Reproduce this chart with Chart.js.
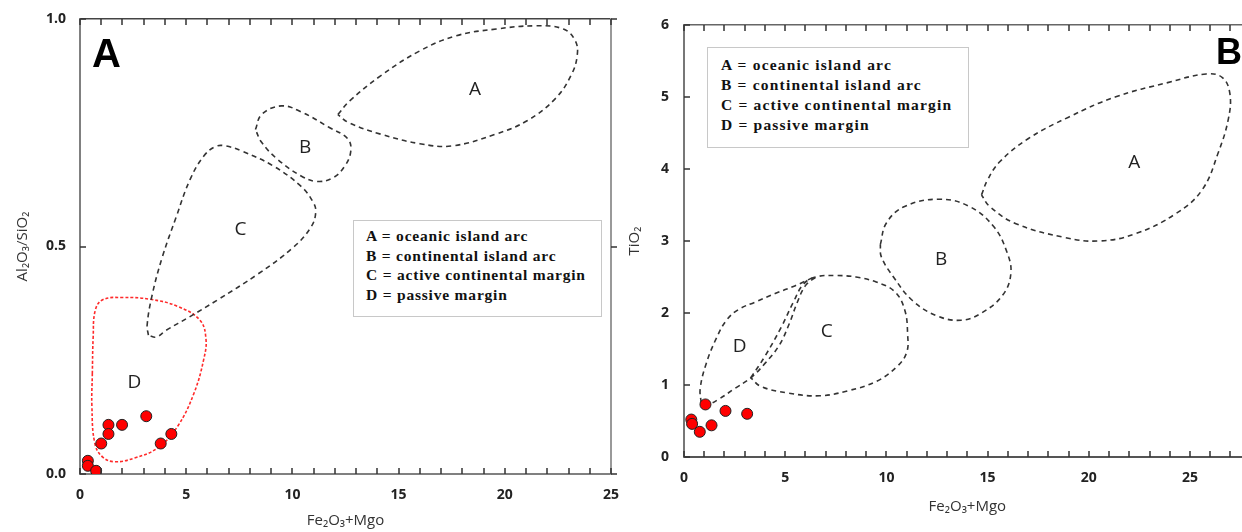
<!DOCTYPE html>
<html>
<head>
<meta charset="utf-8">
<script src="https://cdn.jsdelivr.net/npm/chart.js@4.4.1/dist/chart.umd.min.js"></script>
<style>
html, body { margin: 0; padding: 0; background: #fff; overflow: hidden; width: 1242px; height: 532px; }
#wrapA { position: absolute; left: 0; top: 0; }
#wrapB { position: absolute; left: 620px; top: 0; }
.key { position: absolute; box-sizing: border-box; background: #fff; border: 1.5px solid #c8c8c8;
       font: bold 15.5px "Liberation Serif", "Times New Roman", serif; color: #111; white-space: nowrap; }
.panel { position: absolute; font: bold 40px "Liberation Sans", Arial, sans-serif; color: #000; line-height: 1; }
</style>
</head>
<body>
<div id="wrapA"><canvas id="chartA" width="620" height="532"></canvas></div>
<div id="wrapB"><canvas id="chartB" width="640" height="532"></canvas></div>

<div class="panel" style="left:92px;top:33px;">A</div>
<div class="panel" style="left:1216px;top:34px;font-size:36px;">B</div>

<div class="key" style="left:353px;top:220px;width:249px;height:97px;padding:5px 0 0 12px;line-height:19.5px;letter-spacing:0.8px;">
A = oceanic island arc<br>B = continental island arc<br>C = active continental margin<br>D = passive margin
</div>
<div class="key" style="left:707px;top:47px;width:262px;height:101px;padding:7px 0 0 13px;line-height:20px;letter-spacing:1.2px;">
A = oceanic island arc<br>B = continental island arc<br>C = active continental margin<br>D = passive margin
</div>

<script>
// ---- Panel A : Al2O3/SiO2 vs Fe2O3+MgO ----
const samplesA = [[0.37, 0.029], [0.37, 0.018], [0.76, 0.007], [1.0, 0.067], [1.34, 0.108],
                  [1.34, 0.088], [1.98, 0.108], [3.12, 0.127], [3.8, 0.067], [4.3, 0.088]];

const fieldA_A = [[12.14, 0.79], [12.7, 0.82], [14.15, 0.875], [16.0, 0.93], [17.7, 0.963], [19.6, 0.978],
                  [21.45, 0.985], [22.76, 0.978], [23.32, 0.952], [23.41, 0.92], [23.13, 0.877], [22.38, 0.825],
                  [21.07, 0.777], [19.58, 0.747], [17.5, 0.721], [16.0, 0.726], [14.15, 0.747], [12.66, 0.772], [12.14, 0.79]];
const fieldA_B = [[8.26, 0.757], [8.55, 0.79], [9.48, 0.809], [10.41, 0.796], [11.72, 0.762], [12.6, 0.737],
                  [12.75, 0.71], [12.47, 0.677], [11.91, 0.651], [11.16, 0.643], [10.41, 0.655], [9.29, 0.692],
                  [8.55, 0.729], [8.26, 0.757]];
const fieldA_C = [[3.22, 0.305], [3.16, 0.327], [3.4, 0.394], [3.87, 0.476], [4.53, 0.565], [5.18, 0.647],
                  [5.83, 0.699], [6.39, 0.72], [6.86, 0.721], [7.61, 0.71], [9.1, 0.677], [10.41, 0.632],
                  [10.97, 0.598], [11.1, 0.576], [10.88, 0.543], [10.04, 0.498], [8.36, 0.439], [6.49, 0.383],
                  [5.18, 0.346], [4.06, 0.316], [3.59, 0.301], [3.22, 0.305]];
const fieldA_D = [[0.58, 0.22], [0.62, 0.3], [0.72, 0.36], [1.07, 0.383], [2.0, 0.388], [3.31, 0.384],
                  [4.62, 0.368], [5.65, 0.338], [5.93, 0.297], [5.83, 0.253], [5.37, 0.178], [4.6, 0.105],
                  [3.68, 0.058], [2.56, 0.035], [1.63, 0.027], [1.07, 0.037], [0.7, 0.067], [0.56, 0.149], [0.58, 0.22]];

const labelNames = ['A', 'B', 'C', 'D'];
const labelXA = [18.6, 10.6, 7.55, 2.56];
const labelYA = [0.845, 0.717, 0.537, 0.2];

// ---- Panel B : TiO2 vs Fe2O3+MgO ----
const samplesB = [[0.36, 0.52], [0.40, 0.46], [0.78, 0.35], [1.06, 0.73], [1.36, 0.44], [2.05, 0.64], [3.12, 0.60]];

const fieldB_A = [[14.7, 3.64], [15.0, 3.85], [15.6, 4.1], [17.0, 4.42], [19.0, 4.72], [21.3, 5.0], [23.9, 5.2],
                  [25.8, 5.32], [26.6, 5.27], [26.97, 5.05], [26.9, 4.7], [26.4, 4.23], [25.6, 3.71], [24.3, 3.38],
                  [22.3, 3.1], [20.5, 3.0], [18.8, 3.05], [16.4, 3.24], [15.1, 3.48], [14.7, 3.64]];
const fieldB_B = [[9.7, 2.95], [10.0, 3.25], [10.9, 3.48], [12.6, 3.58], [14.1, 3.48], [15.3, 3.2], [15.95, 2.85],
                  [16.15, 2.55], [15.75, 2.25], [14.7, 2.0], [13.7, 1.9], [12.5, 1.96], [11.3, 2.17], [10.35, 2.5],
                  [9.75, 2.78], [9.7, 2.95]];
const fieldB_C = [[3.3, 1.1], [4.0, 1.4], [4.8, 1.8], [5.4, 2.15], [5.9, 2.4], [6.5, 2.5], [7.5, 2.52], [8.5, 2.5],
                  [9.5, 2.43], [10.4, 2.3], [10.9, 2.05], [11.05, 1.7], [11.0, 1.45], [10.5, 1.25], [9.5, 1.05],
                  [8.1, 0.92], [6.7, 0.85], [5.1, 0.89], [3.8, 0.98], [3.3, 1.1]];
const fieldB_D = [[0.85, 0.75], [0.8, 0.95], [1.1, 1.3], [1.6, 1.65], [2.1, 1.9], [2.7, 2.05], [3.5, 2.15],
                  [4.5, 2.27], [5.5, 2.38], [6.5, 2.5], [6.0, 2.38], [5.6, 2.15], [5.2, 1.85], [4.7, 1.55],
                  [4.0, 1.3], [3.3, 1.1], [2.5, 0.95], [1.7, 0.8], [1.1, 0.72], [0.85, 0.75]];

const labelXB = [22.25, 12.7, 7.05, 2.75];
const labelYB = [4.09, 2.74, 1.74, 1.53];

const xTitle = 'Fe₂O₃+Mgo';

const toXY = arr => arr.map(p => ({ x: p[0], y: p[1] }));

// letters inside the fields, placed through the chart scales
const regionLabelPlugin = {
    id: 'regionLabels',
    afterDatasetsDraw(chart, args, opts) {
        const { ctx, scales } = chart;
        ctx.save();
        ctx.font = '19px "Open Sans", sans-serif';
        ctx.fillStyle = '#222';
        ctx.textAlign = 'center';
        ctx.textBaseline = 'middle';
        opts.names.forEach((n, i) => {
            ctx.fillText(n, scales.x.getPixelForValue(opts.xs[i]), scales.y.getPixelForValue(opts.ys[i]));
        });
        ctx.restore();
    }
};

// tick marks pointing into the plot: every unit along x, every y tick on the left
const innerTickPlugin = {
    id: 'innerTicks',
    afterDraw(chart, args, opts) {
        const { ctx, scales: { x, y } } = chart;
        const len = opts.len;
        const left = x.getPixelForValue(x.min), right = x.getPixelForValue(x.max);
        const bottom = y.getPixelForValue(y.min), top = y.getPixelForValue(y.max);
        ctx.save();
        ctx.strokeStyle = '#333';
        ctx.lineWidth = 1.5;
        ctx.beginPath();
        for (let v = x.min; v <= x.max; v += 1) {
            const px = Math.round(x.getPixelForValue(v));
            ctx.moveTo(px, bottom);
            ctx.lineTo(px, bottom - len);
            ctx.moveTo(px, top);
            ctx.lineTo(px, top + len);
        }
        for (let v = y.min; v <= y.max + 1e-9; v += opts.yStep) {
            const py = Math.round(y.getPixelForValue(v));
            ctx.moveTo(left, py);
            ctx.lineTo(left + len, py);
            if (opts.right) {
                ctx.moveTo(right, py);
                ctx.lineTo(right + len, py);
            }
        }
        ctx.stroke();
        ctx.restore();
    }
};

function fieldLine(points, color, dash) {
    return {
        data: toXY(points),
        showLine: true,
        borderColor: color,
        borderDash: dash,
        borderWidth: 1.6,
        pointRadius: 0,
        tension: 0.4,
        fill: false
    };
}

function sampleSet(points) {
    return {
        data: toXY(points),
        pointRadius: 5.5,
        pointBackgroundColor: '#ff0000',
        pointBorderColor: '#222',
        pointBorderWidth: 1
    };
}

const tickFont = { family: "'Open Sans', sans-serif", size: 14, weight: 'bold' };
const titleFont = { family: "'Open Sans', sans-serif", size: 15 };
const noGrid = { drawOnChartArea: false, drawTicks: false };
const fixSize = (w, h) => s => {
    if (w !== null) s.width = w;
    if (h !== null) s.height = h;
    s.paddingLeft = 0; s.paddingRight = 0; s.paddingTop = 0; s.paddingBottom = 0;
};

// Panel A
new Chart(document.getElementById('chartA').getContext('2d'), {
    type: 'scatter',
    data: {
        datasets: [
            sampleSet(samplesA),
            fieldLine(fieldA_A, '#333', [5, 4]),
            fieldLine(fieldA_B, '#333', [5, 4]),
            fieldLine(fieldA_C, '#333', [5, 4]),
            fieldLine(fieldA_D, '#ff2a2a', [3, 2])
        ]
    },
    plugins: [regionLabelPlugin, innerTickPlugin],
    options: {
        responsive: false,
        devicePixelRatio: 1,
        animation: false,
        layout: { padding: { top: 19, right: 9, left: 0, bottom: 0 } },
        plugins: {
            legend: { display: false },
            tooltip: { enabled: false },
            regionLabels: { names: labelNames, xs: labelXA, ys: labelYA },
            innerTicks: { len: 6, right: true, yStep: 0.5 }
        },
        scales: {
            x: {
                type: 'linear', position: 'bottom', min: 0, max: 25,
                afterFit: fixSize(null, 58),
                ticks: { stepSize: 1, autoSkip: false, maxRotation: 0, padding: 12.6, color: '#222', font: tickFont,
                         callback: v => (v % 5 === 0 ? v : '') },
                grid: noGrid,
                border: { color: '#808080', width: 2 },
                title: { display: true, text: xTitle, color: '#333', font: titleFont, padding: { top: 0, bottom: 2 } }
            },
            x2: {
                type: 'linear', position: 'top', min: 0, max: 25,
                afterFit: fixSize(null, 0),
                ticks: { display: false },
                grid: noGrid,
                border: { color: '#444', width: 1.5 }
            },
            y: {
                type: 'linear', position: 'left', min: 0, max: 1,
                afterFit: fixSize(80, null),
                ticks: { stepSize: 0.5, padding: 14, color: '#222', font: tickFont, callback: v => v.toFixed(1) },
                grid: noGrid,
                border: { color: '#808080', width: 2 },
                title: { display: true, text: 'Al₂O₃/SiO₂', color: '#333', font: titleFont, padding: { top: 14 } }
            },
            y2: {
                type: 'linear', position: 'right', min: 0, max: 1,
                afterFit: fixSize(0, null),
                ticks: { display: false },
                grid: noGrid,
                border: { color: '#999', width: 2 }
            }
        }
    }
});

// Panel B
new Chart(document.getElementById('chartB').getContext('2d'), {
    type: 'scatter',
    data: {
        datasets: [
            sampleSet(samplesB),
            fieldLine(fieldB_A, '#333', [5, 4]),
            fieldLine(fieldB_B, '#333', [5, 4]),
            fieldLine(fieldB_C, '#333', [5, 4]),
            fieldLine(fieldB_D, '#333', [5, 4])
        ]
    },
    plugins: [regionLabelPlugin, innerTickPlugin],
    options: {
        responsive: false,
        devicePixelRatio: 1,
        animation: false,
        layout: { padding: { top: 25, right: 9.3, left: 0, bottom: 0 } },
        plugins: {
            legend: { display: false },
            tooltip: { enabled: false },
            regionLabels: { names: labelNames, xs: labelXB, ys: labelYB },
            innerTicks: { len: 6, right: false, yStep: 1 }
        },
        scales: {
            x: {
                type: 'linear', position: 'bottom', min: 0, max: 28,
                afterFit: fixSize(null, 75),
                ticks: { stepSize: 1, autoSkip: false, maxRotation: 0, padding: 13, color: '#222', font: tickFont,
                         callback: v => (v % 5 === 0 ? v : '') },
                grid: noGrid,
                border: { color: '#555', width: 2 },
                title: { display: true, text: xTitle, color: '#333', font: titleFont, padding: { top: 0, bottom: 16 } }
            },
            x2: {
                type: 'linear', position: 'top', min: 0, max: 28,
                afterFit: fixSize(null, 0),
                ticks: { display: false },
                grid: noGrid,
                border: { color: '#666', width: 1.5 }
            },
            y: {
                type: 'linear', position: 'left', min: 0, max: 6,
                afterFit: fixSize(64, null),
                ticks: { stepSize: 1, padding: 15, color: '#222', font: tickFont },
                grid: noGrid,
                border: { color: '#777', width: 2 },
                title: { display: true, text: 'TiO₂', color: '#333', font: titleFont, padding: { top: 6 } }
            }
        }
    }
});
</script>
</body>
</html>
